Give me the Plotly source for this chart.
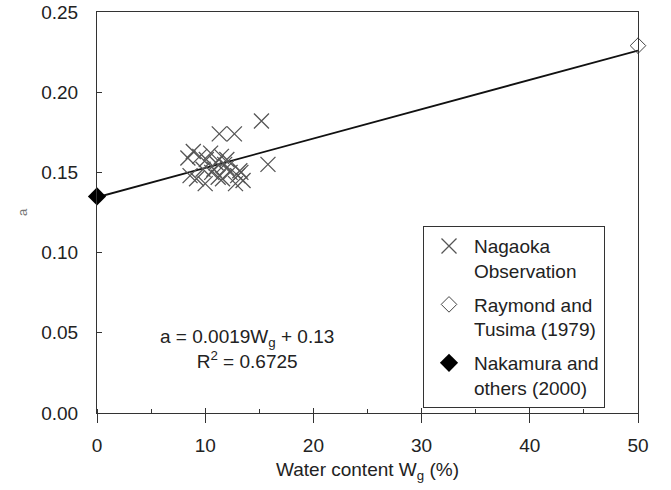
import plotly.graph_objects as go

# Nagaoka observation data (water content %, a)
nagaoka_w = [8.4, 8.9, 9.5, 10.1, 10.5, 11.0, 11.3, 11.5, 12.0, 12.7, 13.2, 13.5, 15.2, 15.8,
             8.6, 9.2, 10.0, 10.6, 11.2, 11.8, 12.3, 12.8, 13.3, 10.8, 11.6, 12.0, 9.8, 13.0]
nagaoka_a = [0.159, 0.163, 0.160, 0.158, 0.162, 0.156, 0.174, 0.160, 0.153, 0.174, 0.151, 0.145, 0.182, 0.155,
             0.148, 0.146, 0.143, 0.150, 0.147, 0.155, 0.150, 0.143, 0.150, 0.152, 0.146, 0.158, 0.152, 0.148]

raymond_w = [50]
raymond_a = [0.229]

nakamura_w = [0]
nakamura_a = [0.135]

fit_w = [0, 50]
fit_a = [0.1345, 0.226]

x_ticks = [0, 10, 20, 30, 40, 50]
y_ticks = [0.00, 0.05, 0.10, 0.15, 0.20, 0.25]
y_tick_labels = ["0.00", "0.05", "0.10", "0.15", "0.20", "0.25"]

FONT = "Liberation Sans, Arial, sans-serif"
TXT = "#222222"

fig = go.Figure()

fig.add_trace(go.Scatter(
    x=fit_w, y=fit_a, mode="lines",
    line=dict(color="#111111", width=1.8),
    showlegend=False, hoverinfo="skip", cliponaxis=False,
))

fig.add_trace(go.Scatter(
    x=nagaoka_w, y=nagaoka_a, mode="markers",
    name="Nagaoka<br>Observation", legendgroup="g1",
    marker=dict(symbol="x-thin", size=15, line=dict(color="#555555", width=1.3), color="#555555"),
    cliponaxis=False,
))

fig.add_trace(go.Scatter(
    x=raymond_w, y=raymond_a, mode="markers",
    name="Raymond and<br>Tusima (1979)", legendgroup="g2",
    marker=dict(symbol="diamond-open", size=12, color="#444444", line=dict(width=1)),
    cliponaxis=False,
))

fig.add_trace(go.Scatter(
    x=nakamura_w, y=nakamura_a, mode="markers",
    name="Nakamura and<br>others (2000)", legendgroup="g3",
    marker=dict(symbol="diamond", size=14, color="#000000"),
    cliponaxis=False,
))

# empty trace on overlay axis so inner halves of x major ticks are drawn
fig.add_trace(go.Scatter(x=[], y=[], xaxis="x2", showlegend=False, hoverinfo="skip"))

fig.add_annotation(
    x=13.9, y=0.0400, xref="x", yref="y",
    text="a = 0.0019W<sub>g</sub> + 0.13<br>R<sup>2</sup> = 0.6725",
    showarrow=False, align="center",
    font=dict(family=FONT, size=19, color=TXT),
)

fig.update_layout(
    width=671, height=490,
    margin=dict(l=97, r=33, t=12, b=77),
    paper_bgcolor="white", plot_bgcolor="white",
    font=dict(family=FONT, size=19, color=TXT),
    showlegend=True,
    legend=dict(
        x=0.6026, y=0.466, xanchor="left", yanchor="top",
        bordercolor="#333333", borderwidth=1, bgcolor="white",
        valign="top", font=dict(family=FONT, size=19, color=TXT),
        itemwidth=40, tracegroupgap=6, traceorder="grouped",
        entrywidth=209,
    ),
    xaxis=dict(
        range=[0, 50], tickvals=x_ticks, automargin=False,
        showline=True, linecolor="#333333", linewidth=1, mirror=True,
        ticks="outside", ticklen=9, tickcolor="#333333",
        minor=dict(dtick=5, ticks="inside", ticklen=4, tickcolor="#333333"),
        showgrid=False, zeroline=False,
        ticklabelstandoff=6, ticklabeloverflow="allow",
        title=dict(text="Water content W<sub>g</sub> (%)", standoff=7,
                   font=dict(family=FONT, size=19, color=TXT)),
        tickfont=dict(family=FONT, size=19, color=TXT),
    ),
    xaxis2=dict(
        range=[0, 50], tickvals=x_ticks, overlaying="x", anchor="y", side="bottom",
        matches="x", automargin=False,
        showline=False, ticks="inside", ticklen=5, tickcolor="#333333",
        showticklabels=False, showgrid=False, zeroline=False,
    ),
    yaxis=dict(
        range=[0, 0.25], tickvals=y_ticks, ticktext=y_tick_labels, automargin=False,
        showline=True, linecolor="#333333", linewidth=1, mirror=True,
        ticks="inside", ticklen=5, tickcolor="#333333",
        showgrid=False, zeroline=False,
        ticklabelstandoff=14, ticklabeloverflow="allow",
        title=dict(text="a", standoff=10,
                   font=dict(family=FONT, size=13, color="#777777")),
        tickfont=dict(family=FONT, size=19, color=TXT),
    ),
)

fig.write_html("out.html",
               config={"displayModeBar": False},
               post_script="document.body.style.margin='0px';document.body.style.padding='0px';")
